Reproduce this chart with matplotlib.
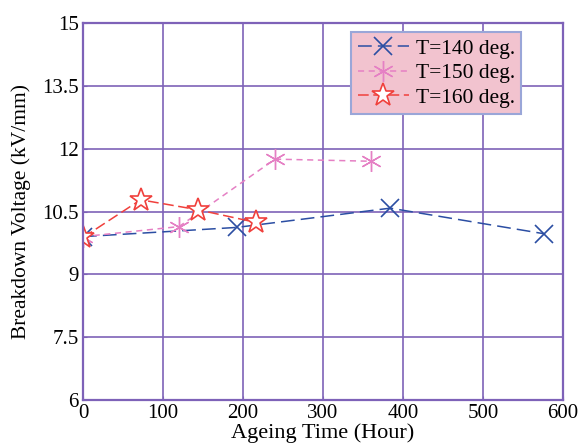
import numpy as np
import matplotlib as mpl
import matplotlib.pyplot as plt

plt.rcParams['font.family'] = ['Liberation Serif', 'DejaVu Serif']

x_140 = [0, 192, 384, 576]
y_140 = [9.9, 10.12, 10.58, 9.97]
x_150 = [0, 120, 240, 360]
y_150 = [9.9, 10.14, 11.75, 11.7]
x_160 = [0, 72, 144, 216]
y_160 = [9.88, 10.78, 10.54, 10.24]
labels = ['T=140 deg.', 'T=150 deg.', 'T=160 deg.']

grid_col = '#7e62b8'

fig = plt.figure(figsize=(5.79, 4.45), dpi=100)
ax = fig.add_axes([0.1434, 0.1011, 0.829, 0.8472])

ax.plot(x_140, y_140, color='#2b4ea3', lw=1.1, dashes=(9, 4), marker='x',
        markersize=13, mew=1.2, label=labels[0])
ax.plot(x_150, y_150, color='#e580c4', lw=1.1, dashes=(4, 3), marker=(6, 2, 0),
        markersize=15, mew=1.0, label=labels[1])
ax.plot(x_160, y_160, color='#f0403c', lw=1.1, dashes=(7, 3), marker='*',
        markersize=17, mew=1.2, markerfacecolor='white', label=labels[2])

ax.set_xlim(0, 600)
ax.set_ylim(6, 15)
ax.set_xticks(np.arange(0, 601, 100))
ax.set_yticks([6, 7.5, 9, 10.5, 12, 13.5, 15])
ax.set_yticklabels(['6', '7.5', '9', '10.5', '12', '13.5', '15'])
ax.grid(True, color=grid_col, lw=1.2)
ax.set_axisbelow(True)
for s in ax.spines.values():
    s.set_color(grid_col)
    s.set_linewidth(1.6)
ax.tick_params(direction='in', length=3, color=grid_col, labelsize=15)
ax.tick_params(axis='x', pad=3)
ax.tick_params(axis='y', pad=3)

ax.set_xlabel('Ageing Time (Hour)', fontsize=16, labelpad=0)
ax.set_ylabel('Breakdown Voltage (kV/mm)', fontsize=15.5, labelpad=8)

leg = ax.legend(loc='upper right', bbox_to_anchor=(0.913, 0.975), fontsize=15.5,
                frameon=True, fancybox=False, handlelength=2.4, handletextpad=0.3,
                borderpad=0.3, labelspacing=0.2, borderaxespad=0)
leg.get_frame().set_facecolor('#f2c3cf')
leg.get_frame().set_edgecolor('#9aa6d8')
leg.get_frame().set_linewidth(1.5)
leg.get_frame().set_alpha(1)

fig.savefig('out.png', dpi=100)
